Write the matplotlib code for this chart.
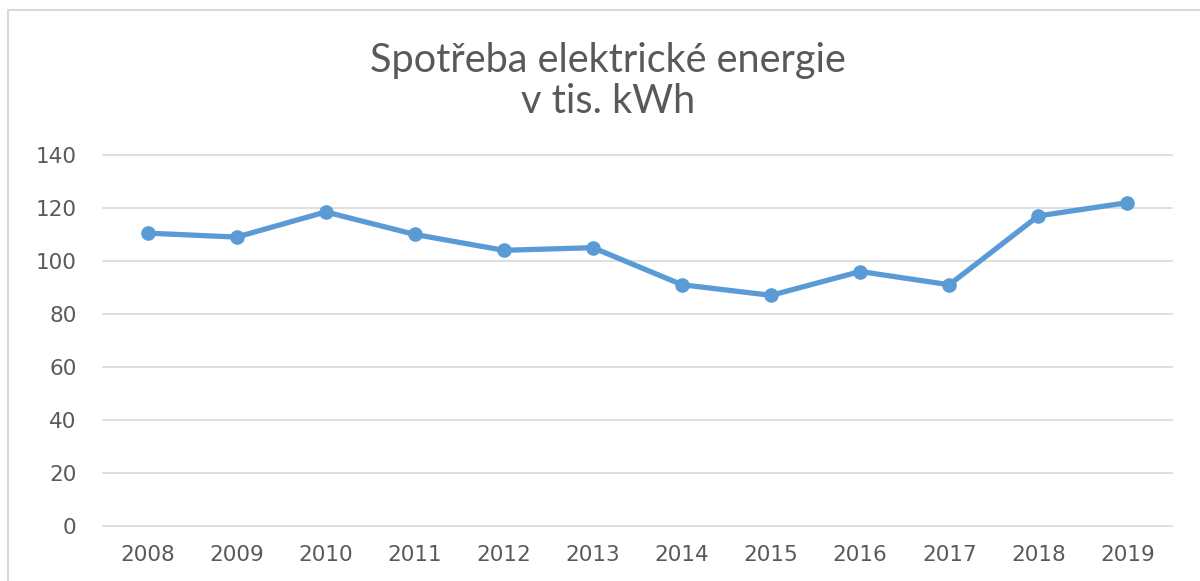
import matplotlib.pyplot as plt
from matplotlib.patches import Rectangle

# data
years = ['2008', '2009', '2010', '2011', '2012', '2013',
         '2014', '2015', '2016', '2017', '2018', '2019']
consumption = [110.5, 109, 118.5, 110, 104, 105, 91, 87, 96, 91, 117, 122]
y_ticks = [0, 20, 40, 60, 80, 100, 120, 140]

text_color = '#595959'
grid_color = '#D9D9D9'
line_color = '#5B9BD5'

fig = plt.figure(figsize=(12, 5.81), dpi=100)

# chart area border (cut off at right and bottom in the reference)
fig.patches.append(Rectangle((8 / 1200, -0.05), 1.2, 1.05 - 10 / 581,
                             transform=fig.transFigure, fill=False,
                             edgecolor='#D9D9D9', linewidth=1.5))

ax = fig.add_axes([103 / 1200, (581 - 525.7) / 581,
                   (1172 - 103) / 1200, (525.7 - 155) / 581])

x = range(len(years))
ax.plot(x, consumption, color=line_color, linewidth=3.8,
        marker='o', markersize=9.5, solid_capstyle='round', zorder=3)

ax.set_xlim(-0.5, len(years) - 0.5)
ax.set_ylim(0, 140)
ax.set_yticks(y_ticks)
ax.set_xticks(list(x))
ax.set_xticklabels(years)

ax.grid(axis='y', color=grid_color, linewidth=1.2)
for gl in ax.get_ygridlines():
    gl.set_clip_on(False)
ax.set_axisbelow(True)
for s in ax.spines.values():
    s.set_visible(False)
ax.tick_params(length=0, colors=text_color, labelsize=15.5)
ax.tick_params(axis='y', pad=19)
ax.tick_params(axis='x', pad=14)

fig.text(0.507, 1 - 72 / 581, 'Spotřeba elektrické energie', ha='center',
         va='baseline', fontsize=28.5, color=text_color, family='Lato')
fig.text(0.507, 1 - 113 / 581, 'v tis. kWh', ha='center',
         va='baseline', fontsize=28.5, color=text_color, family='Lato')

plt.savefig('out.png', dpi=100)
